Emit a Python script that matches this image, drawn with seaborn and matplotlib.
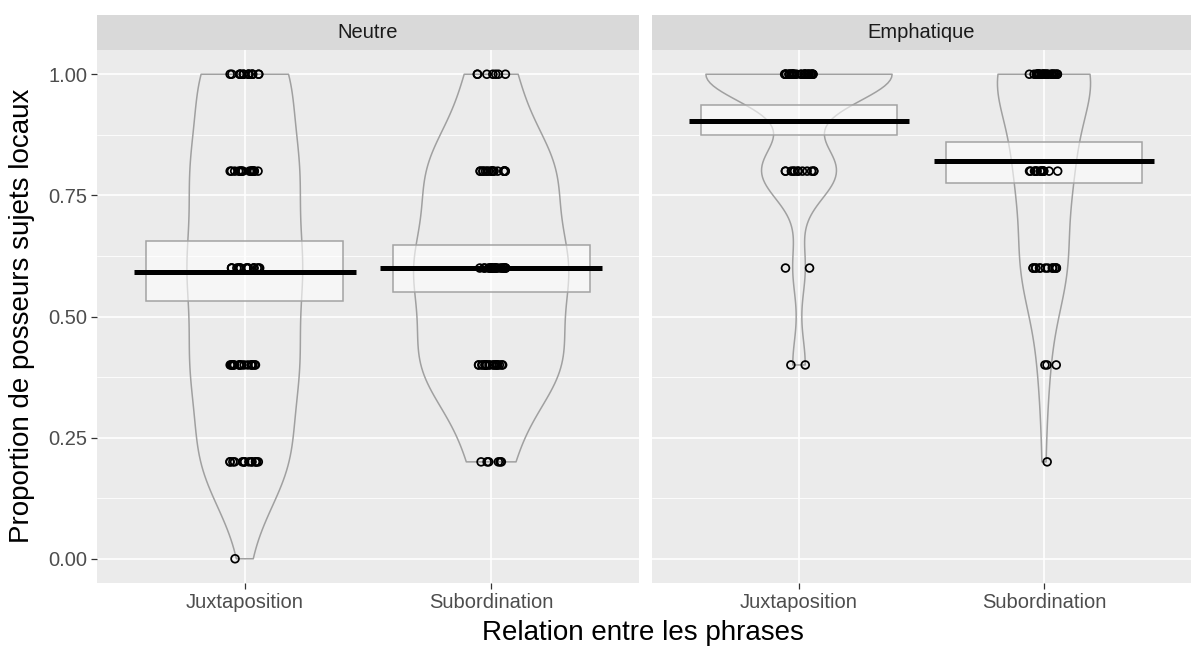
import numpy as np
import pandas as pd
import matplotlib
matplotlib.use("Agg")
import matplotlib.pyplot as plt
import seaborn as sns

sns.set_theme(style="white")
plt.rcParams["font.family"] = ["Liberation Sans", "DejaVu Sans"]

# Response levels and number of speakers at each level, per condition
levels = [0.0, 0.2, 0.4, 0.6, 0.8, 1.0]
relations = ["Juxtaposition", "Subordination"]
registers = ["Neutre", "Emphatique"]

neutre_juxtaposition = [1, 15, 17, 18, 17, 15]
neutre_subordination = [0, 6, 21, 22, 19, 7]
emphatique_juxtaposition = [0, 0, 2, 2, 12, 30]
emphatique_subordination = [0, 1, 3, 13, 15, 28]

# Inference band around each mean (lower, upper), order: Juxt, Subord
band_neutre = [(0.533, 0.655), (0.551, 0.647)]
band_emphatique = [(0.874, 0.936), (0.776, 0.860)]

counts = {
    ("Neutre", "Juxtaposition"): neutre_juxtaposition,
    ("Neutre", "Subordination"): neutre_subordination,
    ("Emphatique", "Juxtaposition"): emphatique_juxtaposition,
    ("Emphatique", "Subordination"): emphatique_subordination,
}
bands = {"Neutre": band_neutre, "Emphatique": band_emphatique}

rows = []
for (reg, rel), cnt in counts.items():
    for lv, c in zip(levels, cnt):
        rows += [{"registre": reg, "relation": rel, "prop": lv}] * c
df = pd.DataFrame(rows)

# Violin geometry: peak width (fraction of the category slot) and smoothing
violin_width = {
    ("Neutre", "Juxtaposition"): 0.47,
    ("Neutre", "Subordination"): 0.63,
    ("Emphatique", "Juxtaposition"): 0.76,
    ("Emphatique", "Subordination"): 0.38,
}
violin_bw = {
    ("Neutre", "Juxtaposition"): 0.9,
    ("Neutre", "Subordination"): 1.05,
    ("Emphatique", "Juxtaposition"): 0.8,
    ("Emphatique", "Subordination"): 1.1,
}

W, H = 1194, 646
fig = plt.figure(figsize=(W / 100, H / 100), dpi=100)


def px_axes(x0, y0, x1, y1):
    return fig.add_axes([x0 / W, 1 - y1 / H, (x1 - x0) / W, (y1 - y0) / H])


panel_px = [(97, 50, 639, 583), (652, 50, 1191, 583)]
strip_px = [(97, 15, 639, 50), (652, 15, 1191, 50)]

grey_txt = "#4D4D4D"
np.random.seed(11)

for i, reg in enumerate(registers):
    ax = px_axes(*panel_px[i])
    ax.set_facecolor("#EBEBEB")
    ax.set_axisbelow(True)
    sub = df[df["registre"] == reg]

    for j, rel in enumerate(relations):
        g = sub[sub["relation"] == rel]
        sns.violinplot(data=g, x="relation", y="prop", order=relations,
                       cut=0, inner=None, fill=False, color="#A0A0A0",
                       linewidth=1.1, density_norm="width",
                       width=violin_width[(reg, rel)],
                       bw_adjust=violin_bw[(reg, rel)], ax=ax)

        lo, hi = bands[reg][j]
        ax.bar(j, hi - lo, bottom=lo, width=0.8, color="white", alpha=0.6,
               edgecolor="none", zorder=3)
        ax.bar(j, hi - lo, bottom=lo, width=0.8, fill=False,
               edgecolor="#A3A3A3", linewidth=1.1, zorder=3.1)

    # group means
    for j, rel in enumerate(relations):
        v = sub[sub["relation"] == rel]["prop"].to_numpy()
        ax.hlines(v.mean(), j - 0.45, j + 0.45, color="black", linewidth=3.6,
                  zorder=4)

    sns.stripplot(data=sub, x="relation", y="prop", order=relations,
                  jitter=0.062, size=5.6, marker="o", facecolors="none",
                  edgecolor="black", linewidth=1.25, ax=ax, zorder=5)

    ax.set_xlim(-0.6, 1.6)
    ax.set_ylim(-0.05, 1.05)
    ax.set_yticks([0, 0.25, 0.5, 0.75, 1.0])
    ax.set_yticks([0.125, 0.375, 0.625, 0.875], minor=True)
    ax.set_xticks([0, 1])
    ax.grid(which="major", color="white", linewidth=1.2)
    ax.grid(which="minor", axis="y", color="white", linewidth=0.6)
    for s in ax.spines.values():
        s.set_visible(False)
    ax.set_xlabel("")
    ax.set_ylabel("")
    ax.tick_params(axis="both", which="major", length=4, width=0.9,
                   color="#333333", labelsize=14.5, labelcolor=grey_txt, pad=3,
                   bottom=True, left=(i == 0))
    ax.tick_params(axis="both", which="minor", length=0)
    ax.set_xticklabels(relations)
    if i == 0:
        ax.set_yticklabels(["0.00", "0.25", "0.50", "0.75", "1.00"])
    else:
        ax.set_yticklabels([])

    st = px_axes(*strip_px[i])
    st.set_facecolor("#D9D9D9")
    st.set_xticks([])
    st.set_yticks([])
    for s in st.spines.values():
        s.set_visible(False)
    st.text(0.5, 0.5, reg, ha="center", va="center", fontsize=14.5,
            color="#1A1A1A", transform=st.transAxes)

fig.text(643 / W, 1 - 633 / H, "Relation entre les phrases", ha="center",
         va="center", fontsize=20, color="black")
fig.text(22 / W, 1 - 316 / H, "Proportion de posseurs sujets locaux",
         ha="center", va="center", rotation=90, fontsize=20, color="black")

fig.savefig("out.png", dpi=100)
